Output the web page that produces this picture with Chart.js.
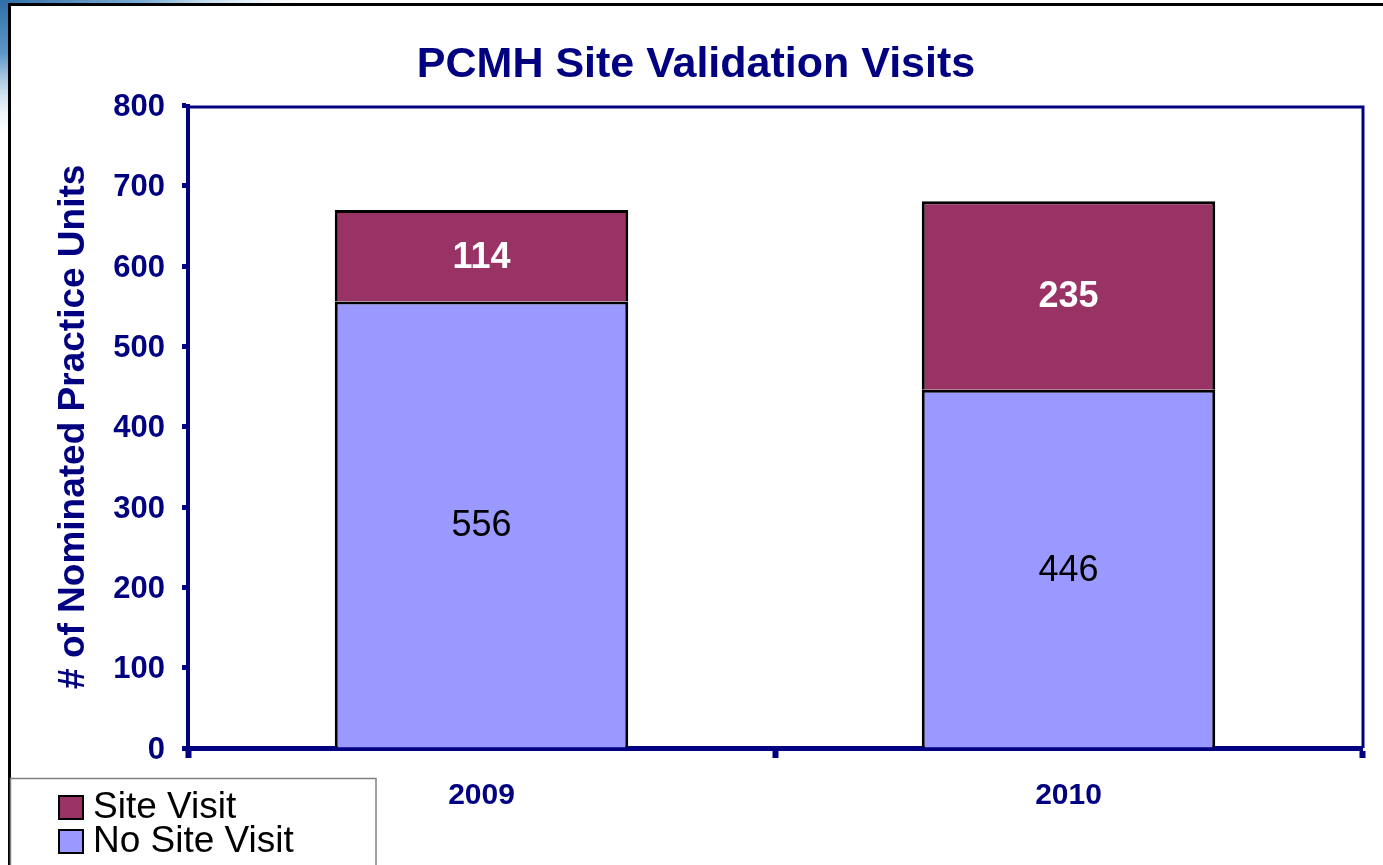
<!DOCTYPE html>
<html>
<head>
<meta charset="utf-8">
<script src="https://cdn.jsdelivr.net/npm/chart.js@4/dist/chart.umd.min.js"></script>
<style>
  html, body { margin: 0; padding: 0; background: #ffffff; }
  #wrap { position: relative; width: 1383px; height: 865px; }
  canvas { display: block; }
</style>
</head>
<body>
<div id="wrap"><canvas id="c" width="1383" height="865"></canvas></div>
<script>
// ---- data ----
const categories = ['2009', '2010'];
const noSiteVisit = [556, 446];
const siteVisit = [114, 235];
const seriesNames = ['No Site Visit', 'Site Visit'];
const yTicks = [0, 100, 200, 300, 400, 500, 600, 700, 800];

const NAVY = '#000080';
const FONT = 'Arial, "Liberation Sans", Helvetica, sans-serif';

const framePlugin = {
  id: 'frame',
  beforeDraw(chart) {
    const ctx = chart.ctx;
    ctx.save();
    // decorative blue swoosh top-left
    let g = ctx.createLinearGradient(0, 0, 300, 0);
    g.addColorStop(0, '#2f6fa8');
    g.addColorStop(0.5, '#7fb0d6');
    g.addColorStop(1, 'rgba(220,235,245,0)');
    ctx.fillStyle = g;
    ctx.fillRect(0, 0, 300, 4);
    g = ctx.createLinearGradient(0, 0, 0, 135);
    g.addColorStop(0, '#2f6fa8');
    g.addColorStop(0.4, '#5d97c7');
    g.addColorStop(1, 'rgba(220,235,245,0)');
    ctx.fillStyle = g;
    ctx.fillRect(0, 0, 8, 135);
    // outer frame (top + left)
    ctx.strokeStyle = '#000000';
    ctx.lineWidth = 3;
    ctx.beginPath();
    ctx.moveTo(9.5, 865);
    ctx.lineTo(9.5, 4.5);
    ctx.lineTo(1383, 4.5);
    ctx.stroke();
    ctx.restore();
  },
  beforeDatasetsDraw(chart) {
    const {ctx, chartArea} = chart;
    ctx.save();
    ctx.strokeStyle = NAVY;
    ctx.lineWidth = 3;
    ctx.beginPath();
    ctx.moveTo(chartArea.left, chartArea.top + 1.5);
    ctx.lineTo(chartArea.right + 1, chartArea.top + 1.5);
    ctx.lineTo(chartArea.right + 1, chartArea.bottom);
    ctx.stroke();
    ctx.restore();
  },
  afterDraw(chart) {
    const ctx = chart.ctx;
    ctx.save();
    // value labels
    chart.data.datasets.forEach((ds, di) => {
      const meta = chart.getDatasetMeta(di);
      meta.data.forEach((el, i) => {
        const v = ds.data[i];
        const cy = (el.y + el.base) / 2;
        ctx.font = (di === 1 ? 'bold ' : '') + '36px ' + FONT;
        ctx.fillStyle = di === 1 ? '#ffffff' : '#000000';
        ctx.textAlign = 'center';
        ctx.textBaseline = 'middle';
        ctx.fillText(String(v), el.x, cy + 2);
      });
    });
    // legend box
    ctx.strokeStyle = '#808080';
    ctx.lineWidth = 1.5;
    ctx.strokeRect(10.5, 778.5, 365.5, 100);
    const items = chart.data.datasets.map((d, i) => ({label: d.label, color: d.backgroundColor})).reverse();
    items.forEach((it, k) => {
      const y = 796 + k * 34;
      ctx.fillStyle = it.color;
      ctx.fillRect(59, y, 24, 23);
      ctx.strokeStyle = '#000000';
      ctx.lineWidth = 2;
      ctx.strokeRect(59, y, 24, 23);
      ctx.fillStyle = '#000000';
      ctx.font = '37px ' + FONT;
      ctx.textAlign = 'left';
      ctx.textBaseline = 'alphabetic';
      ctx.fillText(it.label, 93, y + 22);
    });
    ctx.restore();
  }
};

new Chart(document.getElementById('c'), {
  type: 'bar',
  data: {
    labels: categories,
    datasets: [
      { label: seriesNames[0], data: noSiteVisit, backgroundColor: '#9999FF', borderColor: '#000000', borderWidth: 3, barPercentage: 0.5, categoryPercentage: 1.0 },
      { label: seriesNames[1], data: siteVisit, backgroundColor: '#993366', borderColor: '#000000', borderWidth: 3, barPercentage: 0.5, categoryPercentage: 1.0 }
    ]
  },
  options: {
    responsive: false,
    animation: false,
    layout: { padding: { left: 30, right: 21, top: 0, bottom: 0 } },
    plugins: {
      legend: { display: false },
      tooltip: { enabled: false },
      title: {
        display: true,
        text: 'PCMH Site Validation Visits',
        color: NAVY,
        font: { family: FONT, size: 43, weight: 'bold' },
        padding: { top: 39, bottom: 15 }
      }
    },
    scales: {
      x: {
        stacked: true,
        grid: { offset: true, drawOnChartArea: false, drawTicks: true, tickLength: 10, tickWidth: 6, tickColor: NAVY, color: NAVY },
        border: { display: true, color: NAVY, width: 5 },
        ticks: { color: NAVY, font: { family: FONT, size: 30, weight: 'bold' }, padding: 20 },
        afterFit(scale) { scale.height = 117; }
      },
      y: {
        stacked: true,
        min: 0, max: 800,
        afterBuildTicks(scale) { scale.ticks = yTicks.map(v => ({ value: v })); },
        grid: { drawOnChartArea: false, drawTicks: true, tickLength: 6, tickWidth: 5, tickColor: NAVY, color: NAVY },
        border: { display: true, color: NAVY, width: 4 },
        ticks: { color: NAVY, font: { family: FONT, size: 31, weight: 'bold' }, padding: 17, labelOffset: 2 },
        title: {
          display: true,
          text: '# of Nominated Practice Units',
          color: NAVY,
          font: { family: FONT, size: 37, weight: 'bold' },
          padding: { top: 22, bottom: 0 }
        },
        afterFit(scale) { scale.width = 158; }
      }
    }
  },
  plugins: [framePlugin]
});
</script>
</body>
</html>
